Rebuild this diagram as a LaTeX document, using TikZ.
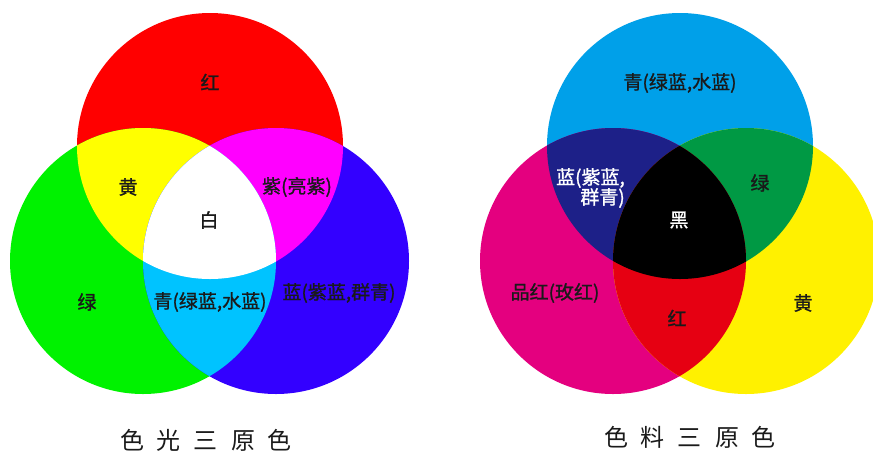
\documentclass[tikz,border=0pt]{standalone}
\usepackage{fontspec}
\newfontfamily\cjk{Noto Sans CJK SC}
\newfontfamily\cjkb{Noto Sans CJK SC}[FakeBold=1.2]
\definecolor{lRed}{HTML}{FF0000}
\definecolor{lGreen}{HTML}{00F200}
\definecolor{lBlue}{HTML}{3300FF}
\definecolor{lYellow}{HTML}{FFFF00}
\definecolor{lMagenta}{HTML}{FF00FF}
\definecolor{lCyan}{HTML}{00C3FF}
\definecolor{pCyan}{HTML}{00A0E9}
\definecolor{pMagenta}{HTML}{E4007F}
\definecolor{pYellow}{HTML}{FFF100}
\definecolor{pBlue}{HTML}{1D2088}
\definecolor{pGreen}{HTML}{009944}
\definecolor{pRed}{HTML}{E60012}
\definecolor{txt}{HTML}{1A1A1A}
\begin{document}
\begin{tikzpicture}[x=1pt,y=-1pt,
  lbl/.style={font=\cjkb\fontsize{19}{22}\selectfont, inner sep=0pt, text=txt},
  wlbl/.style={lbl, text=white},
  ttl/.style={font=\cjk\fontsize{24}{26}\selectfont, inner sep=0pt, text=txt}]
\useasboundingbox (0,0) rectangle (873,456);
\fill[white] (0,0) rectangle (873,456);
\clip (0,0) rectangle (873,456);
% ---------- additive (light) ----------
\fill[lRed]   (210,146) circle[radius=133];
\fill[lGreen] (143,261) circle[radius=133];
\fill[lBlue]  (276,261) circle[radius=133];
\begin{scope}
  \clip (210,146) circle[radius=133];
  \fill[lYellow] (143,261) circle[radius=133];
  \fill[lMagenta] (276,261) circle[radius=133];
\end{scope}
\begin{scope}
  \clip (143,261) circle[radius=133];
  \fill[lCyan] (276,261) circle[radius=133];
  \clip (210,146) circle[radius=133];
  \fill[white] (276,261) circle[radius=133];
\end{scope}
% ---------- subtractive (pigment) ----------
\fill[pCyan]    (680,146) circle[radius=133];
\fill[pMagenta] (613,261) circle[radius=133];
\fill[pYellow]  (746,261) circle[radius=133];
\begin{scope}
  \clip (680,146) circle[radius=133];
  \fill[pBlue] (613,261) circle[radius=133];
  \fill[pGreen] (746,261) circle[radius=133];
\end{scope}
\begin{scope}
  \clip (613,261) circle[radius=133];
  \fill[pRed] (746,261) circle[radius=133];
  \clip (680,146) circle[radius=133];
  \fill[black] (746,261) circle[radius=133];
\end{scope}
% ---------- labels (light) ----------
\node[lbl] (tR) at (210,82) {红};
\node[lbl] (tY) at (128,187) {黄};
\node[lbl] (tM) at (297,187) {紫(亮紫)};
\node[lbl] (tW) at (209,220) {白};
\node[lbl] (tG) at (87,302) {绿};
\node[lbl] (tC) at (210,302) {青(绿蓝,水蓝)};
\node[lbl] (tB) at (339,293) {蓝(紫蓝,群青)};
% ---------- labels (pigment) ----------
\node[lbl] (pC) at (680,83) {青(绿蓝,水蓝)};
\node[wlbl, align=right, anchor=east] (pB) at (625,188) {蓝(紫蓝,\\[-2pt]群青)};
\node[lbl] (pG) at (760,183) {绿};
\node[wlbl] (pK) at (679,220) {黑};
\node[lbl] (pM) at (555,293) {品红(玫红)};
\node[lbl] (pR) at (677,318) {红};
\node[lbl] (pY) at (803,303) {黄};
% ---------- titles ----------
\node[ttl] (t1) at (206,440) {色\hspace{13pt}光\hspace{13pt}三\hspace{13pt}原\hspace{13pt}色};
\node[ttl] (t2) at (690,437) {色\hspace{13pt}料\hspace{13pt}三\hspace{13pt}原\hspace{13pt}色};
\end{tikzpicture}
\end{document}
